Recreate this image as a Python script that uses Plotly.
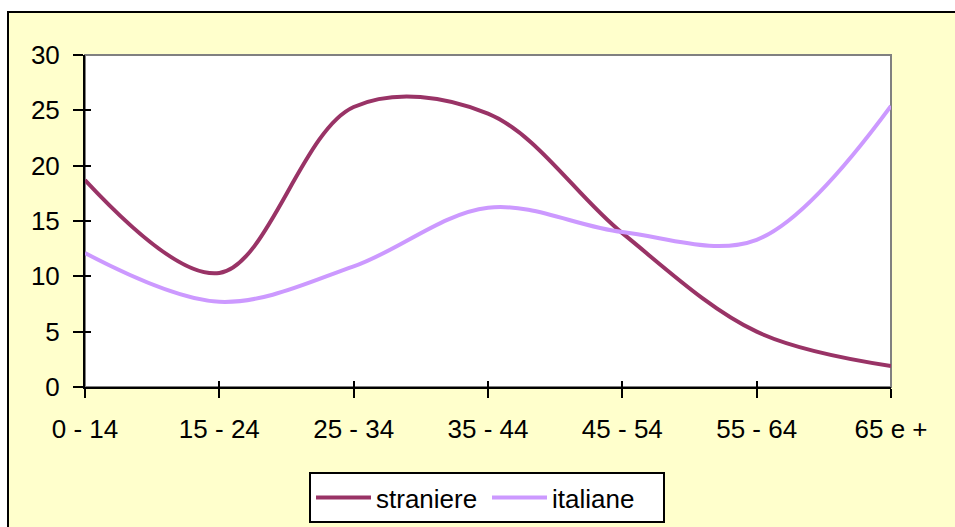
import plotly.graph_objects as go

categories = ["0 - 14", "15 - 24", "25 - 34", "35 - 44", "45 - 54", "55 - 64", "65 e +"]
straniere = [18.7, 10.3, 25.3, 24.7, 13.9, 5.0, 1.9]
italiane = [12.1, 7.7, 10.9, 16.2, 14.0, 13.3, 25.4]
y_ticks = [0, 5, 10, 15, 20, 25, 30]

FONT = "Liberation Sans, Arial, sans-serif"
FS = 26

fig = go.Figure()
fig.add_trace(go.Scatter(x=categories, y=straniere, name="straniere", mode="lines",
                         line=dict(color="#993366", width=4, shape="spline", smoothing=1.0)))
fig.add_trace(go.Scatter(x=categories, y=italiane, name="italiane", mode="lines",
                         line=dict(color="#CC99FF", width=4, shape="spline", smoothing=1.0)))
# helper trace so the overlay axes (inner tick halves) exist
fig.add_trace(go.Scatter(x=[None], y=[None], xaxis="x2", yaxis="y2", showlegend=False,
                         hoverinfo="skip"))

L, R, T, B = 85, 64, 55, 140
W, H = 955, 527
pw, ph = W - L - R, H - T - B

def px_to_paper_x(px):
    return (px - L) / pw

def px_to_paper_y(py):
    return (H - B - py) / ph

fig.update_layout(
    width=W, height=H,
    margin=dict(l=L, r=R, t=T, b=B, autoexpand=False),
    paper_bgcolor="white",
    plot_bgcolor="white",
    font=dict(family=FONT, size=FS, color="black"),
    showlegend=True,
    legend=dict(orientation="h", x=px_to_paper_x(487), xanchor="center",
                y=px_to_paper_y(472), yanchor="top",
                itemwidth=55, entrywidth=106,
                bgcolor="white", bordercolor="black", borderwidth=2,
                font=dict(family=FONT, size=FS, color="black")),
    shapes=[
        dict(type="rect", xref="paper", yref="paper", layer="below",
             x0=px_to_paper_x(8), x1=px_to_paper_x(975),
             y0=px_to_paper_y(545), y1=px_to_paper_y(12),
             fillcolor="#FFFFCC", line=dict(color="black", width=2)),
        dict(type="rect", xref="paper", yref="paper", layer="below",
             x0=0, x1=1, y0=0, y1=1,
             fillcolor="white", line=dict(color="#808080", width=2)),
    ],
    xaxis=dict(range=[0, 6], showgrid=False, zeroline=False,
               showline=True, linecolor="black", linewidth=2,
               ticks="outside", ticklen=9, tickwidth=2, tickcolor="black",
               ticklabelstandoff=9,
               tickfont=dict(family=FONT, size=FS, color="black")),
    yaxis=dict(range=[0, 30], tickvals=y_ticks, showgrid=False, zeroline=False,
               showline=True, linecolor="black", linewidth=2,
               ticks="outside", ticklen=10, tickwidth=2, tickcolor="black",
               ticklabelstandoff=8,
               tickfont=dict(family=FONT, size=FS, color="black")),
    xaxis2=dict(overlaying="x", range=[0, 6], tickvals=list(range(len(categories))),
                showgrid=False, zeroline=False, showline=False, showticklabels=False,
                ticks="inside", ticklen=6, tickwidth=2, tickcolor="black", side="bottom"),
    yaxis2=dict(overlaying="y", range=[0, 30], tickvals=y_ticks,
                showgrid=False, zeroline=False, showline=False, showticklabels=False,
                ticks="inside", ticklen=6, tickwidth=2, tickcolor="black", side="left"),
)

fig.write_html("out.html", config={"displayModeBar": False},
               post_script="document.body.style.margin='0';document.body.style.overflow='hidden';")
